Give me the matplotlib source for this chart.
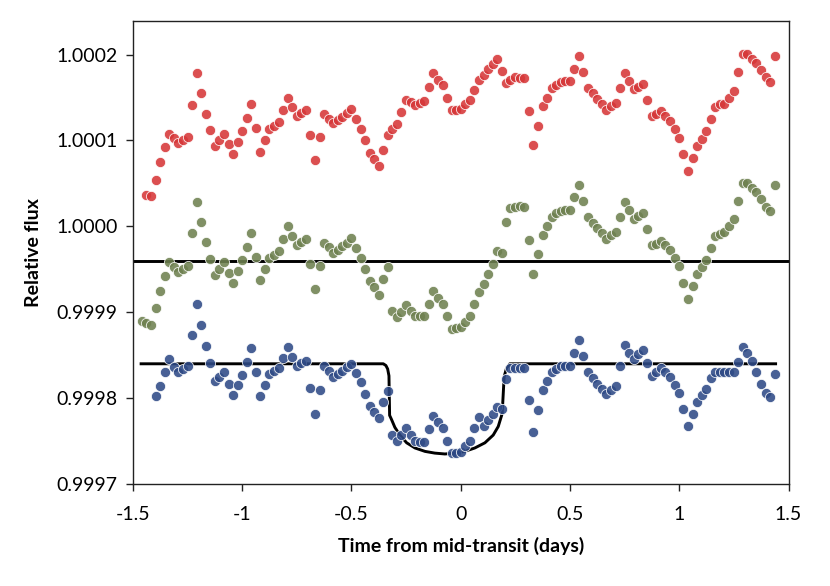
import numpy as np
import matplotlib
matplotlib.use("Agg")
import matplotlib.pyplot as plt
from matplotlib.ticker import FixedLocator, FuncFormatter

nan = np.nan

# Time from mid-transit (days), shared cadence for all three series
time_days = [
    -1.459, -1.438, -1.416, -1.395, -1.374, -1.354, -1.333, -1.311, -1.292, -1.270,
    -1.249, -1.229, -1.207, -1.186, -1.165, -1.145, -1.124, -1.104, -1.083, -1.062,
    -1.041, -1.020, -1.000, -0.979, -0.958, -0.936, -0.917, -0.895, -0.875, -0.854,
    -0.832, -0.813, -0.791, -0.770, -0.750, -0.729, -0.708, -0.688, -0.666, -0.645,
    -0.625, -0.604, -0.583, -0.563, -0.542, -0.521, -0.500, -0.479, -0.458, -0.436,
    -0.416, -0.395, -0.375, -0.354, -0.334, -0.312, -0.292, -0.272, -0.250, -0.229,
    -0.208, -0.188, -0.167, -0.147, -0.125, -0.104, -0.083, -0.063, -0.041, -0.020,
    0.000, 0.021, 0.042, 0.063, 0.083, 0.105, 0.125, 0.146, 0.166, 0.187,
    0.207, 0.228, 0.249, 0.270, 0.291, 0.311, 0.333, 0.353, 0.375, 0.394,
    0.416, 0.437, 0.458, 0.478, 0.500, 0.520, 0.541, 0.562, 0.583, 0.605,
    0.624, 0.646, 0.666, 0.687, 0.709, 0.728, 0.750, 0.771, 0.791, 0.812,
    0.833, 0.853, 0.875, 0.896, 0.917, 0.937, 0.958, 0.980, 0.999, 1.019,
    1.041, 1.062, 1.082, 1.103, 1.124, 1.144, 1.165, 1.187, 1.207, 1.228,
    1.249, 1.269, 1.291, 1.311, 1.332, 1.353, 1.374, 1.396, 1.415, 1.437,
]

flux_red = [
    nan, 1.000037, 1.000035, 1.000054, 1.000075, 1.000092, 1.000108, 1.000103, 1.000097, 1.000101,
    1.000104, 1.000141, 1.000178, 1.000155, 1.000131, 1.000112, 1.000093, 1.000101, 1.000108, 1.000096,
    1.000084, 1.000098, 1.000111, 1.000126, 1.000142, 1.000115, 1.000087, 1.000101, 1.000113, 1.000117,
    1.000121, 1.000136, 1.000150, 1.000139, 1.000128, 1.000132, 1.000136, 1.000106, 1.000077, 1.000104,
    1.000131, 1.000125, 1.000120, 1.000124, 1.000127, 1.000132, 1.000137, 1.000125, 1.000113, 1.000100,
    1.000086, 1.000078, 1.000070, 1.000089, 1.000106, 1.000113, 1.000119, 1.000133, 1.000147, 1.000145,
    1.000141, 1.000144, 1.000146, 1.000162, 1.000178, 1.000171, 1.000165, 1.000150, 1.000136, 1.000136,
    1.000137, 1.000142, 1.000147, 1.000159, 1.000170, 1.000176, 1.000183, 1.000189, 1.000195, 1.000181,
    1.000167, 1.000171, 1.000174, 1.000173, 1.000173, 1.000134, 1.000095, 1.000117, 1.000140, 1.000150,
    1.000161, 1.000165, 1.000168, 1.000169, 1.000169, 1.000183, 1.000198, 1.000180, 1.000161, 1.000155,
    1.000148, 1.000142, 1.000136, 1.000140, 1.000144, 1.000161, 1.000178, 1.000169, 1.000160, 1.000162,
    1.000166, 1.000147, 1.000129, 1.000131, 1.000134, 1.000129, 1.000123, 1.000113, 1.000103, 1.000084,
    1.000065, 1.000080, 1.000094, 1.000102, 1.000111, 1.000125, 1.000139, 1.000142, 1.000143, 1.000150,
    1.000158, 1.000180, 1.000201, 1.000201, 1.000195, 1.000190, 1.000182, 1.000174, 1.000168, 1.000198,
]

flux_green = [
    0.999890, 0.999887, 0.999885, 0.999905, 0.999925, 0.999942, 0.999959, 0.999953, 0.999947, 0.999950,
    0.999954, 0.999992, 1.000028, 1.000005, 0.999982, 0.999962, 0.999943, 0.999950, 0.999958, 0.999946,
    0.999934, 0.999948, 0.999961, 0.999976, 0.999992, 0.999964, 0.999937, 0.999950, 0.999963, 0.999967,
    0.999971, 0.999985, 1.000000, 0.999989, 0.999978, 0.999982, 0.999985, 0.999956, 0.999927, 0.999954,
    0.999981, 0.999976, 0.999969, 0.999973, 0.999977, 0.999981, 0.999987, 0.999975, 0.999963, 0.999950,
    0.999936, 0.999929, 0.999920, 0.999939, 0.999953, 0.999901, 0.999895, 0.999900, 0.999909, 0.999902,
    0.999896, 0.999896, 0.999896, 0.999910, 0.999925, 0.999917, 0.999910, 0.999896, 0.999881, 0.999882,
    0.999883, 0.999889, 0.999896, 0.999910, 0.999924, 0.999933, 0.999944, 0.999956, 0.999971, 0.999969,
    1.000005, 1.000021, 1.000023, 1.000024, 1.000023, 0.999984, 0.999945, 0.999968, 0.999990, 1.000001,
    1.000011, 1.000015, 1.000018, 1.000019, 1.000019, 1.000034, 1.000048, 1.000030, 1.000011, 1.000004,
    0.999998, 0.999992, 0.999985, 0.999990, 0.999994, 1.000011, 1.000028, 1.000019, 1.000009, 1.000012,
    1.000016, 0.999997, 0.999978, 0.999980, 0.999983, 0.999978, 0.999973, 0.999963, 0.999954, 0.999934,
    0.999916, 0.999930, 0.999944, 0.999953, 0.999961, 0.999975, 0.999989, 0.999991, 0.999993, 1.000001,
    1.000008, 1.000030, 1.000051, 1.000051, 1.000045, 1.000040, 1.000032, 1.000023, 1.000018, 1.000048,
]

flux_blue = [
    nan, nan, nan, 0.999802, 0.999814, 0.999830, 0.999846, 0.999836, 0.999830, 0.999834,
    0.999837, 0.999873, 0.999910, 0.999885, 0.999861, 0.999841, 0.999820, 0.999825, 0.999830, 0.999817,
    0.999804, 0.999815, 0.999827, 0.999842, 0.999858, 0.999831, 0.999802, 0.999815, 0.999828, 0.999832,
    0.999835, 0.999847, 0.999860, 0.999848, 0.999837, 0.999841, 0.999843, 0.999812, 0.999782, 0.999810,
    0.999838, 0.999832, 0.999825, 0.999828, 0.999832, 0.999836, 0.999840, 0.999829, 0.999819, 0.999805,
    0.999791, 0.999784, 0.999777, 0.999795, 0.999808, 0.999757, 0.999750, 0.999757, 0.999765, 0.999757,
    0.999750, 0.999749, 0.999749, 0.999764, 0.999779, 0.999772, 0.999765, 0.999750, 0.999736, 0.999736,
    0.999737, 0.999744, 0.999750, 0.999765, 0.999778, 0.999768, 0.999774, 0.999781, 0.999790, 0.999787,
    0.999822, 0.999835, 0.999835, 0.999835, 0.999835, 0.999798, 0.999761, 0.999786, 0.999809, 0.999820,
    0.999830, 0.999834, 0.999837, 0.999838, 0.999838, 0.999853, 0.999868, 0.999849, 0.999831, 0.999824,
    0.999817, 0.999811, 0.999805, 0.999809, 0.999814, 0.999837, 0.999862, 0.999853, 0.999845, 0.999851,
    0.999856, 0.999841, 0.999826, 0.999830, 0.999835, 0.999830, 0.999825, 0.999815, 0.999806, 0.999787,
    0.999768, 0.999782, 0.999796, 0.999804, 0.999811, 0.999823, 0.999830, 0.999831, 0.999831, 0.999831,
    0.999831, 0.999842, 0.999859, 0.999852, 0.999843, 0.999830, 0.999817, 0.999806, 0.999801, 0.999828,
]

# Flat reference line for the green series
flat_x = [-1.5, 1.5]
flat_y = [0.99996, 0.99996]

# Transit model curve for the blue series (vertices)
model_x = [-1.462, -0.354, -0.342, -0.334, -0.328, -0.325, -0.316, -0.301, -0.278,
           -0.247, -0.209, -0.163, -0.118, -0.072, -0.026, 0.019, 0.065, 0.111,
           0.149, 0.172, 0.184, 0.190, 0.199, 0.210, 0.225, 1.441]
model_y = [0.99984, 0.99984, 0.999838, 0.999834, 0.999826, 0.999780, 0.999775, 0.999766,
           0.999757, 0.999748, 0.999742, 0.999738, 0.999736, 0.999735, 0.999736,
           0.999738, 0.999742, 0.999748, 0.999757, 0.999767, 0.999777, 0.999782,
           0.999825, 0.999835, 0.99984, 0.99984]

y_ticks = [0.9997, 0.9998, 0.9999, 1.0000, 1.0001, 1.0002]
x_ticks = [-1.5, -1, -0.5, 0, 0.5, 1, 1.5]

plt.rcParams['font.family'] = ['Lato', 'DejaVu Sans']

fig = plt.figure(figsize=(8.30, 5.86), dpi=100)
ax = fig.add_axes([0.160, 0.174, 0.790, 0.790])

ax.plot(flat_x, flat_y, color='black', lw=2.1, zorder=2, solid_capstyle='butt')
ax.plot(model_x, model_y, color='black', lw=2.1, zorder=2, solid_joinstyle='round')

common = dict(s=54, edgecolors='white', linewidths=0.6, alpha=0.88, zorder=3)
ax.scatter(time_days, flux_red, color='#D63638', **common)
ax.scatter(time_days, flux_green, color='#6E8150', **common)
ax.scatter(time_days, flux_blue, color='#2E4A86', **common)

ax.set_xlim(-1.5, 1.5)
ax.set_ylim(0.9997, 1.000239)
ax.xaxis.set_major_locator(FixedLocator(x_ticks))
ax.yaxis.set_major_locator(FixedLocator(y_ticks))
ax.xaxis.set_major_formatter(FuncFormatter(lambda v, p: f"{v:g}"))
ax.yaxis.set_major_formatter(FuncFormatter(lambda v, p: f"{v:.4f}"))

for s in ax.spines.values():
    s.set_linewidth(1.0)
    s.set_color('#222222')

ax.tick_params(axis='both', direction='out', length=5, width=1.0, labelsize=14,
               colors='#222222', labelcolor='black', pad=6)
ax.tick_params(axis='x', pad=11)

ax.set_xlabel('Time from mid-transit (days)', fontsize=14, fontweight='bold', labelpad=10)
ax.set_ylabel('Relative flux', fontsize=14, fontweight='bold', labelpad=10)

fig.savefig('out.png', dpi=100)
